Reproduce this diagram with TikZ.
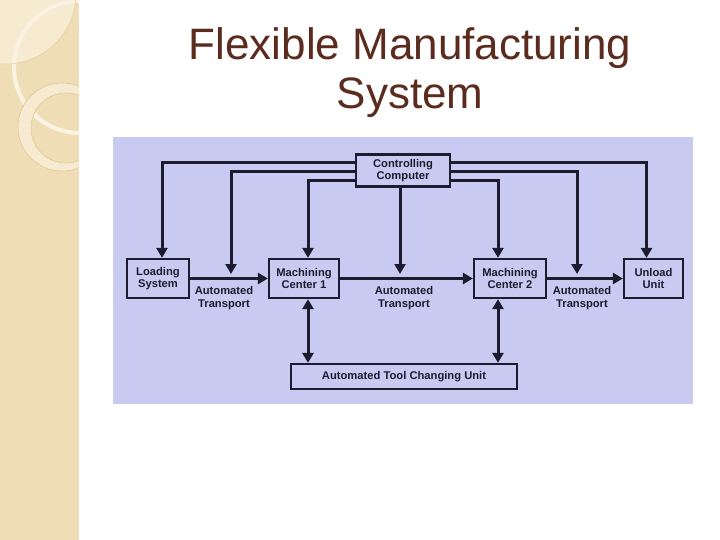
\documentclass[tikz,border=0pt]{standalone}
\usepackage{fontspec}
\setmainfont{Liberation Sans}
\usetikzlibrary{arrows.meta}
\definecolor{strip}{HTML}{EFDDB6}
\definecolor{stripl}{HTML}{F6EAD0}
\definecolor{panel}{HTML}{C9CAF1}
\definecolor{ink}{HTML}{1C1C2E}
\definecolor{titlec}{HTML}{5B2C1E}
\tikzset{
  box/.style={draw=ink, line width=2.2pt, fill=panel, text=ink, font=\bfseries\fontsize{11.2}{12.5}\selectfont, align=center, inner sep=0pt},
  arr/.style={draw=ink, line width=3pt, -{Triangle[length=10pt,width=11pt]}},
  darr/.style={draw=ink, line width=3pt, {Triangle[length=10pt,width=11pt]}-{Triangle[length=10pt,width=11pt]}},
  lbl/.style={text=ink, font=\bfseries\fontsize{11.2}{12.5}\selectfont, align=center, inner sep=0pt},
  ttl/.style={text=titlec, font=\fontsize{44}{50}\selectfont, inner sep=0pt, anchor=base}
}
\begin{document}
\begin{tikzpicture}[x=1pt,y=-1pt]
\useasboundingbox (0,0) rectangle (720,540);
\fill[white] (0,0) rectangle (720,540);
% left decorative strip
\fill[strip] (0,0) rectangle (79,540);
\begin{scope}
\clip (0,0) rectangle (79,540);
\fill[stripl] (6,-6) circle (70);
\draw[stripl!60!white, line width=4pt] (80,67) circle (66);
\fill[stripl, even odd rule] (62,127) circle (44) (66,128) circle (35);
\draw[strip!75!brown, line width=0.6pt] (62,127) circle (44);
\draw[strip!75!brown, line width=0.6pt] (66,128) circle (35);
\draw[strip!80!brown, line width=0.5pt] (6,-6) circle (70);
\end{scope}
% title
\node[ttl] (t1) at (410,60) {Flexible Manufacturing};
\node[ttl] (t2) at (410,109) {System};
% panel
\fill[panel] (113,137) rectangle (693,404);
% boxes
\node[box, minimum width=94pt, minimum height=32pt] (cc) at (403,170.5) {Controlling\\Computer};
\node[box, minimum width=62pt, minimum height=39pt] (ls) at (158,278.5) {Loading\\System};
\node[box, minimum width=70pt, minimum height=39pt] (mc1) at (304,278.5) {Machining\\Center 1};
\node[box, minimum width=72pt, minimum height=39pt] (mc2) at (510,278.5) {Machining\\Center 2};
\node[box, minimum width=59pt, minimum height=39pt] (uu) at (653.5,278.5) {Unload\\Unit};
\node[box, minimum width=226pt, minimum height=25pt] (atc) at (404,376.5) {Automated Tool Changing Unit};
% transport labels
\node[lbl] (a1) at (224,298) {Automated\\Transport};
\node[lbl] (a2) at (404,298) {Automated\\Transport};
\node[lbl] (a3) at (582,298) {Automated\\Transport};
% transport coordinates
\coordinate (p1) at (231,274);
\coordinate (p2) at (400,274);
\coordinate (p3) at (577,274);
\coordinate (m1) at ([xshift=4pt]mc1.south);
\coordinate (m2) at ([xshift=-12pt]mc2.south);
% control lines
\draw[arr] ([yshift=7.5pt]cc.west) -| ([xshift=4pt]ls.north);
\draw[arr] ([yshift=-1.5pt]cc.west) -| (p1);
\draw[arr] ([yshift=-10.5pt]cc.west) -| ([xshift=4pt]mc1.north);
\draw[arr] ([yshift=7.5pt]cc.east) -| ([xshift=-7pt]uu.north);
\draw[arr] ([yshift=-1.5pt]cc.east) -| (p3);
\draw[arr] ([yshift=-10.5pt]cc.east) -| ([xshift=-12pt]mc2.north);
\draw[arr] (cc.south -| p2) -- (p2);
% material flow
\draw[arr] (ls.east) -- (mc1.west);
\draw[arr] (mc1.east) -- (mc2.west);
\draw[arr] (mc2.east) -- (uu.west);
% tool changer
\draw[darr] (m1) -- (atc.north -| m1);
\draw[darr] (m2) -- (atc.north -| m2);
\end{tikzpicture}
\end{document}
